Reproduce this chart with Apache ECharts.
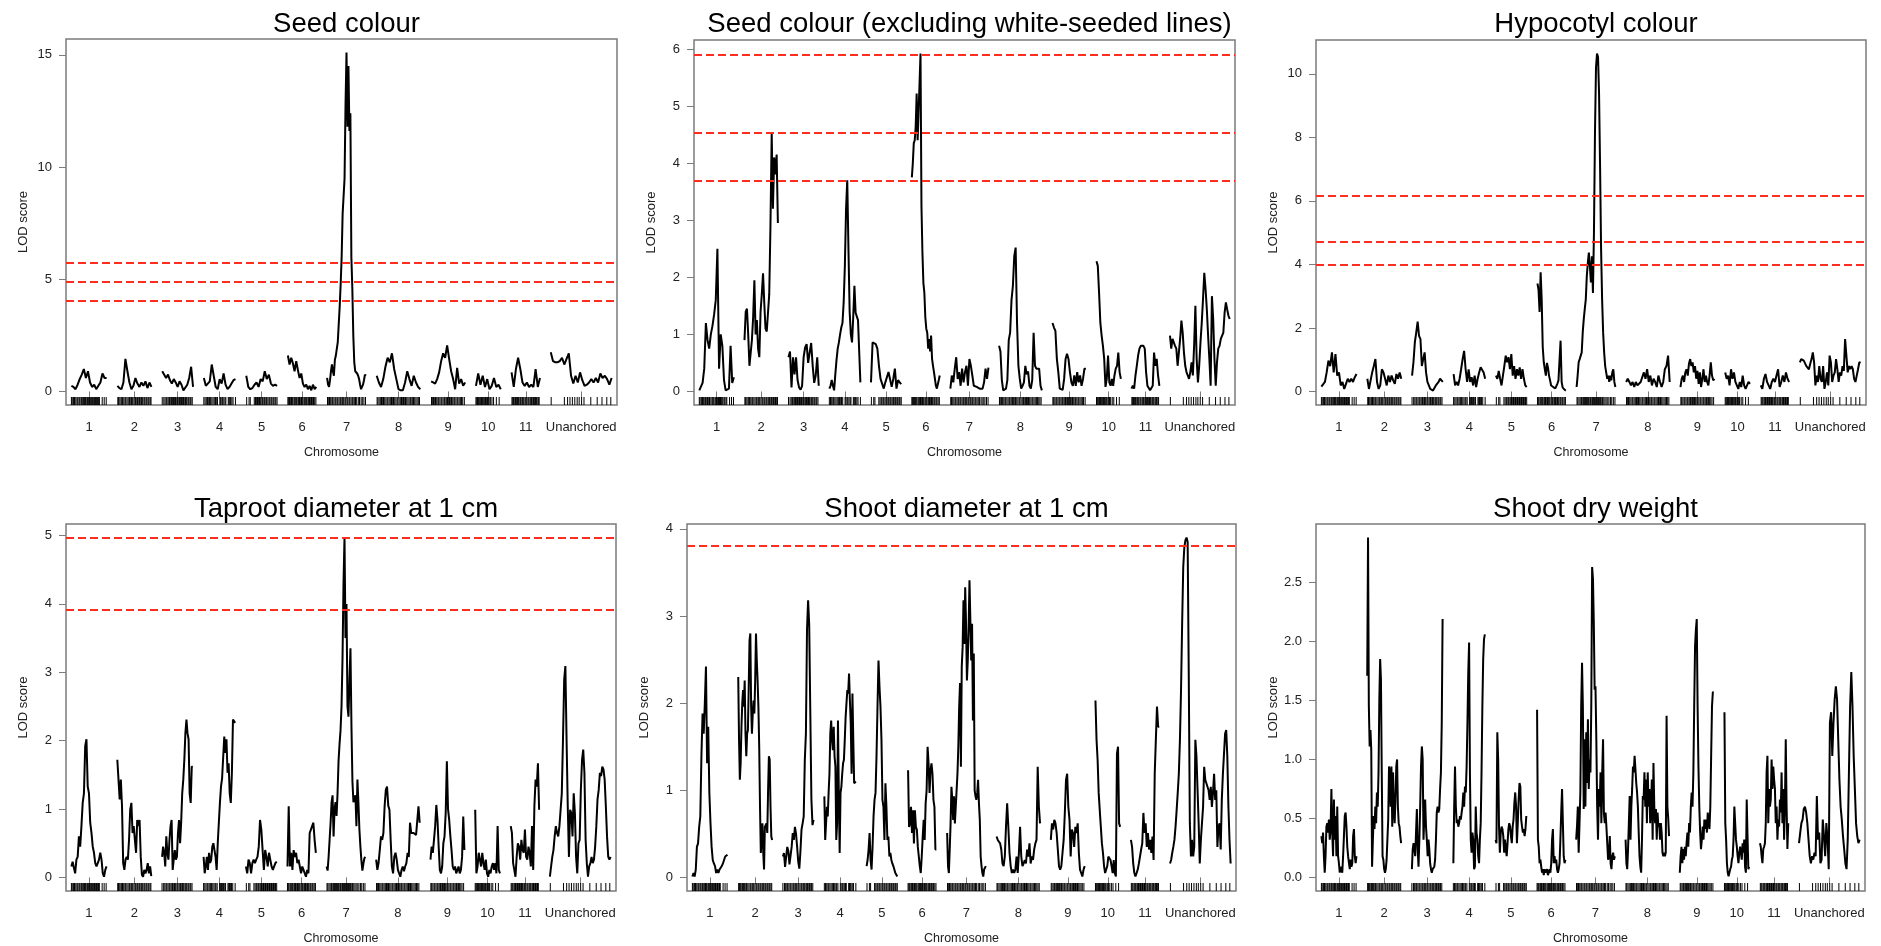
<!DOCTYPE html>
<html>
<head>
<meta charset="utf-8">
<title>LOD profiles</title>
<script src="https://cdn.jsdelivr.net/npm/echarts@6/dist/echarts.min.js"></script>
<style>
  html, body { margin: 0; padding: 0; background: #ffffff; }
  #chart { width: 1881px; height: 946px; }
</style>
</head>
<body>
<div id="chart"></div>
<script>
// ---- genetic map ----------------------------------------------------------
const chromosomes = ['1', '2', '3', '4', '5', '6', '7', '8', '9', '10', '11', 'Unanchored'];
const chromLengths = [88, 85, 77, 79, 77, 71, 97, 109, 85, 62, 71, 152];   // cM
const chromGap = 27;                                                      // cM between chromosomes

// marker positions (cM from the start of each chromosome)
const markers = [
  [0, 2, 5, 7, 8, 11, 14, 16, 19, 21, 24, 26, 27, 30, 33, 35, 37, 40, 42, 44, 45, 47, 49, 51, 52, 54, 56, 58, 60, 63, 65, 68, 70, 77, 82, 87],
  [1, 3, 6, 9, 11, 13, 16, 19, 21, 24, 27, 30, 32, 35, 37, 39, 42, 45, 47, 50, 52, 55, 57, 60, 62, 64, 67, 69, 72, 74, 77, 79, 82, 84],
  [0, 4, 7, 10, 12, 15, 18, 20, 23, 26, 28, 31, 33, 35, 38, 40, 43, 46, 48, 51, 53, 55, 58, 60, 62, 65, 67, 70, 72, 75],
  [0, 3, 6, 9, 11, 14, 17, 20, 23, 26, 29, 31, 34, 40, 42, 45, 47, 50, 53, 55, 61, 63, 65, 67, 70, 73, 79],
  [1, 7, 10, 20, 23, 26, 28, 31, 33, 36, 39, 41, 44, 46, 49, 51, 54, 57, 59, 62, 64, 67, 69, 72, 74, 77],
  [0, 2, 4, 7, 9, 11, 13, 16, 18, 20, 22, 25, 27, 29, 31, 34, 36, 38, 41, 43, 45, 47, 50, 52, 54, 57, 59, 62, 64, 67, 70],
  [1, 3, 6, 9, 12, 14, 17, 20, 22, 25, 27, 30, 33, 35, 38, 40, 42, 45, 47, 50, 52, 55, 57, 60, 63, 65, 68, 71, 74, 78, 81, 85, 88, 92, 96],
  [1, 3, 6, 9, 12, 15, 17, 20, 23, 26, 28, 31, 34, 37, 40, 42, 45, 48, 51, 53, 56, 59, 62, 64, 67, 70, 72, 75, 78, 81, 84, 86, 89, 92, 95, 98, 101, 104, 107],
  [1, 3, 6, 9, 11, 14, 17, 19, 22, 25, 27, 30, 33, 35, 38, 41, 43, 46, 49, 51, 54, 57, 59, 62, 65, 67, 70, 73, 76, 79, 83],
  [0, 2, 4, 6, 8, 10, 12, 14, 16, 18, 20, 22, 24, 26, 29, 31, 33, 36, 40, 44, 51, 58],
  [1, 3, 5, 8, 10, 12, 15, 17, 19, 22, 24, 27, 29, 31, 34, 36, 38, 41, 43, 46, 48, 50, 53, 55, 57, 60, 62, 64, 67, 69],
  [1, 34, 42, 48, 54, 60, 66, 71, 77, 83, 100, 116, 128, 140, 150]
];

// ---- LOD profiles: one array per chromosome, evenly spaced along it ------
const lodSeedColour = [
  [0.25,0.2,0.1,0.3,0.55,0.75,1.0,0.6,0.9,0.4,0.2,0.3,0.1,0.25,0.4,0.8,0.6,0.6],
  [0.25,0.15,0.1,0.4,1.45,0.9,0.4,0.1,0.25,0.6,0.35,0.2,0.4,0.25,0.45,0.15,0.4,0.2],
  [0.9,0.85,0.6,0.75,0.5,0.35,0.55,0.4,0.2,0.45,0.3,0.05,0.1,0.3,0.6,1.1,0.2],
  [0.6,0.25,0.35,0.45,1.2,0.7,0.2,0.1,0.55,0.35,0.8,0.3,0.1,0.2,0.35,0.5,0.55],
  [0.7,0.2,0.1,0.15,0.3,0.4,0.2,0.55,0.45,0.9,0.55,0.75,0.35,0.25,0.3,0.25],
  [1.6,1.2,1.5,1.25,0.9,1.35,0.95,0.6,0.8,0.35,0.2,0.3,0.1,0.25,0.05,0.3,0.1,0.2],
  [0.6,0.3,0.2,0.5,0.9,1.2,0.9,0.7,1.4,1.6,1.9,2.2,3.0,3.8,4.8,6.0,7.9,7.9,9.5,12.8,15.1,11.8,14.5,11.6,12.4,6.0,4.6,2.5,1.3,0.9,0.85,0.8,0.7,0.55,0.3,0.1,0.15,0.3,0.5,0.75,0.7],
  [0.7,0.4,0.2,0.55,1.1,1.5,1.3,1.7,1.0,0.55,0.1,0.05,0.05,0.4,0.9,0.55,0.25,0.7,0.4,0.2,0.1],
  [0.45,0.4,0.35,0.55,0.85,1.35,1.7,1.5,2.05,1.45,0.9,0.55,0.1,1.05,0.35,0.55,0.25,0.4],
  [0.25,0.8,0.3,0.7,0.2,0.55,0.1,0.25,0.6,0.2,0.3,0.1],
  [0.85,0.2,1.0,1.5,1.0,0.4,0.25,0.4,0.2,0.3,0.2,1.0,0.2,0.6],
  [1.75,1.35,1.3,1.3,1.35,1.5,1.2,1.45,1.7,0.7,0.35,0.7,0.4,0.85,0.5,0.25,0.3,0.4,0.55,0.4,0.6,0.4,0.8,0.6,0.7,0.55,0.3,0.6]
];

const lodSeedColourNoWhite = [
  [0.02,0.05,0.15,0.4,1.2,0.9,0.75,1.0,1.15,1.35,1.6,2.5,0.4,1.0,0.8,0.2,0.02,0.0,0.05,0.8,0.15,0.25],
  [0.9,1.4,1.45,1.0,0.45,0.42,0.9,1.3,1.95,1.0,1.25,0.75,0.6,1.4,1.7,2.07,1.55,1.1,1.05,1.05,1.7,2.9,4.52,3.2,4.1,3.8,4.15,2.95],
  [0.6,0.7,0.07,0.6,0.3,0.6,0.2,0.07,0.03,0.1,0.6,0.77,0.83,0.5,0.68,0.85,0.45,0.15,0.28,0.6,0.1],
  [0.05,0.1,0.2,0.1,0.02,0.3,0.55,0.75,0.86,1.0,1.12,1.2,1.56,2.2,3.2,3.7,2.5,1.4,1.0,0.86,1.3,1.85,1.38,1.35,1.25,0.7,0.16],
  [0.16,0.86,0.86,0.83,0.75,0.45,0.22,0.2,0.05,0.16,0.13,0.34,0.34,0.08,0.22,0.4,0.05,0.2,0.16,0.13],
  [3.75,4.0,4.35,4.4,4.64,5.22,4.4,4.9,5.4,5.92,3.24,2.43,1.9,1.73,1.3,1.1,1.03,0.75,0.92,0.7,0.98,0.57,0.45,0.34,0.22,0.1,0.05,0.07,0.2,0.28],
  [0.05,0.28,0.16,0.4,0.6,0.22,0.34,0.1,0.4,0.16,0.34,0.45,0.1,0.57,0.45,0.28,0.1,0.1,0.08,0.08,0.05,0.08,0.05,0.16,0.4,0.22,0.42],
  [0.8,0.7,0.2,0.02,0.02,0.05,0.2,0.9,1.03,1.6,1.85,2.37,2.52,1.2,0.45,0.22,0.05,0.1,0.16,0.45,0.3,0.35,0.1,0.05,0.2,1.03,0.45,0.4,0.4,0.4,0.1,0.02],
  [1.2,1.12,1.06,0.57,0.34,0.05,0.02,0.03,0.22,0.57,0.66,0.57,0.34,0.16,0.1,0.28,0.1,0.34,0.16,0.28,0.1,0.22,0.4,0.4],
  [2.28,2.2,1.73,1.2,0.98,0.8,0.57,0.08,0.22,0.63,0.16,0.1,0.22,0.1,0.28,0.4,0.45,0.68,0.34,0.22],
  [0.05,0.1,0.05,0.28,0.45,0.63,0.75,0.8,0.82,0.8,0.75,0.34,0.1,0.08,0.02,0.05,0.1,0.68,0.45,0.57,0.28,0.1],
  [0.98,0.75,0.92,0.86,0.8,0.75,0.45,0.68,0.92,1.24,1.03,0.68,0.45,0.34,0.28,0.22,0.34,0.51,0.28,0.8,1.5,0.57,0.16,0.45,0.86,1.2,1.62,2.08,1.8,1.44,0.98,0.57,0.1,1.67,1.27,0.57,0.1,0.51,0.75,0.8,0.92,0.92,1.03,1.38,1.56,1.44,1.33,1.27]
];

const lodHypocotylColour = [
  [0.15,0.14,0.3,0.6,0.97,0.8,1.23,0.6,1.18,0.5,0.6,0.19,0.3,0.08,0.24,0.4,0.3,0.4,0.3,0.45,0.55],
  [0.4,0.08,0.08,0.6,0.8,1.02,0.3,0.08,0.19,0.7,0.6,0.4,0.19,0.5,0.3,0.5,0.35,0.24,0.55,0.4,0.6,0.4],
  [0.5,0.92,1.55,1.86,2.2,1.75,1.65,0.8,1.02,1.23,0.6,0.3,0.19,0.08,0.03,0.03,0.05,0.19,0.14,0.3,0.4,0.4,0.3],
  [0.55,0.19,0.3,0.19,0.4,0.7,1.02,1.28,0.7,0.3,0.7,0.3,0.45,0.19,0.5,0.14,0.4,0.6,0.76,0.7,0.6,0.4],
  [0.5,0.4,0.65,0.4,0.19,0.5,0.8,1.13,0.92,1.08,0.7,1.18,0.5,0.8,0.4,0.7,0.5,0.76,0.4,0.7,0.4,0.19,0.14],
  [3.4,3.2,2.5,3.75,2.9,1.4,0.92,0.7,0.5,0.9,0.75,0.5,0.35,0.19,0.15,0.14,0.19,0.1,0.15,0.25,0.35,1.0,1.6,0.3,0.12,0.08,0.05,0.03],
  [0.14,0.5,0.92,1.02,0.97,1.23,1.86,2.28,2.6,2.9,3.64,4.05,4.37,3.95,3.43,4.26,3.1,5.0,8.13,10.2,10.64,10.53,9.38,7.08,4.47,2.9,1.86,1.23,0.8,0.6,0.4,0.5,0.3,0.5,0.35,0.6,0.7,0.3,0.14],
  [0.3,0.4,0.3,0.19,0.3,0.14,0.3,0.19,0.14,0.3,0.45,0.6,0.4,0.7,0.3,0.5,0.19,0.4,0.3,0.14,0.5,0.3,0.14,0.3,0.7,0.8,1.13,0.3],
  [0.14,0.4,0.5,0.3,0.6,0.7,0.5,0.87,1.02,0.8,0.92,0.6,0.8,0.4,0.65,0.24,0.6,0.14,0.4,0.7,0.3,0.5,0.3,0.19,0.5,0.92,0.5,0.35,0.4],
  [0.6,0.4,0.5,0.19,0.7,0.4,0.6,0.3,0.19,0.08,0.3,0.14,0.5,0.19,0.08,0.19,0.3,0.24],
  [0.19,0.08,0.4,0.55,0.3,0.19,0.08,0.3,0.4,0.3,0.5,0.7,0.14,0.3,0.5,0.3,0.6,0.4,0.3],
  [0.92,1.02,1.08,0.97,0.92,0.8,0.76,0.7,0.87,1.02,1.23,0.92,0.19,0.5,0.3,0.8,0.4,0.3,0.8,0.08,0.3,0.6,0.19,1.13,0.92,0.3,0.5,0.6,1.02,0.7,0.3,0.6,0.5,0.8,0.65,1.65,1.6,0.6,0.8,0.7,0.8,0.7,0.4,0.3,0.5,0.7,0.92,0.9]
];

const lodTaprootDiameter = [
  [0.16,0.23,0.14,0.06,0.26,0.3,0.6,0.45,0.75,1.09,1.23,1.92,2.02,1.33,1.23,0.8,0.65,0.45,0.36,0.21,0.16,0.21,0.26,0.36,0.26,0.06,0.01,0.11,0.16],
  [1.72,1.43,1.14,1.43,1.04,0.21,0.11,0.26,0.3,0.26,0.55,0.99,1.09,0.65,0.75,0.55,0.36,0.84,0.75,0.84,0.3,0.04,0.01,0.11,0.06,0.11,0.21,0.06,0.16,0.02],
  [0.3,0.45,0.36,0.16,0.6,0.36,0.26,0.55,0.75,0.84,0.11,0.26,0.4,0.26,0.3,0.65,0.84,0.5,0.8,1.23,1.43,1.72,2.11,2.31,2.11,2.02,1.23,1.09,1.62,1.62],
  [0.3,0.06,0.16,0.3,0.11,0.36,0.21,0.26,0.45,0.5,0.4,0.3,0.11,0.5,0.8,1.09,1.33,1.45,1.43,2.06,1.82,2.02,1.53,1.67,1.23,1.09,1.53,2.31,2.31,2.26],
  [0.16,0.06,0.26,0.21,0.06,0.21,0.26,0.21,0.26,0.3,0.45,0.84,0.7,0.4,0.11,0.4,0.3,0.16,0.36,0.26,0.16,0.11,0.16,0.21,0.23],
  [0.16,1.04,0.16,0.36,0.11,0.4,0.3,0.36,0.21,0.26,0.16,0.06,0.16,0.11,0.06,0.01,0.11,0.06,0.65,0.7,0.75,0.8,0.55,0.36],
  [0.16,0.1,0.3,0.55,0.8,1.1,1.2,0.6,1.0,1.1,0.9,1.23,1.7,1.95,2.15,2.5,3.2,4.3,4.97,3.5,4.0,2.5,2.35,2.9,3.35,2.21,1.4,1.1,1.1,1.2,0.75,1.43,1.1,0.7,0.45,0.25,0.1,0.2,0.28,0.3],
  [0.26,0.11,0.21,0.4,0.6,0.55,0.65,1.04,1.28,1.33,1.05,0.99,0.55,0.16,0.06,0.3,0.36,0.26,0.11,0.06,0.01,0.11,0.16,0.09,0.16,0.21,0.36,0.3,0.8,0.65,0.67,0.65,0.65,0.62,0.6,1.04,0.8],
  [0.26,0.45,0.36,0.55,0.75,1.06,0.84,0.45,0.11,0.06,0.16,0.5,0.6,0.94,1.7,1.0,0.84,0.6,0.4,0.16,0.11,0.16,0.06,0.11,0.16,0.06,0.11,0.3,0.89,0.4],
  [0.99,0.06,0.16,0.36,0.26,0.16,0.36,0.21,0.11,0.26,0.06,0.01,0.11,0.06,0.16,0.21,0.11,0.21,0.06,0.75,0.11,0.06],
  [0.75,0.65,0.21,0.11,0.01,0.3,0.5,0.45,0.26,0.55,0.4,0.36,0.7,0.3,0.26,0.45,0.36,0.16,0.75,0.11,1.04,1.43,1.33,1.67,0.99],
  [0.01,0.16,0.3,0.4,0.6,0.75,0.65,0.6,0.75,0.99,1.23,2.02,2.89,3.09,2.02,1.04,0.3,0.99,0.94,0.6,1.23,0.94,0.3,0.06,0.5,0.55,1.28,1.72,1.87,1.53,0.55,0.21,0.01,0.16,0.21,0.3,0.21,0.26,0.45,0.75,1.14,1.28,1.53,1.48,1.62,1.58,1.43,1.04,0.6,0.3,0.26,0.3]
];

const lodShootDiameter = [
  [0.01,0.05,0.01,0.09,0.35,0.39,0.58,0.7,1.4,1.88,1.65,2.0,2.42,1.31,1.73,0.97,0.62,0.35,0.2,0.16,0.13,0.05,0.09,0.05,0.09,0.07,0.13,0.16,0.2,0.24,0.26,0.26],
  [2.3,1.58,1.12,1.31,1.73,2.0,2.15,1.96,2.26,1.65,1.39,1.65,1.69,2.19,2.72,2.8,1.96,1.65,1.88,2.03,1.88,2.26,2.8,2.49,2.26,1.96,1.5,0.81,0.28,0.28,0.62,0.28,0.09,0.58,0.58,0.62,0.51,1.0,1.39,1.35,0.81,0.47,0.43],
  [0.24,0.28,0.12,0.1,0.35,0.3,0.15,0.25,0.35,0.51,0.43,0.58,0.5,0.35,0.18,0.1,0.3,0.55,0.62,0.7,1.35,1.65,2.84,3.18,2.9,1.9,0.9,0.6,0.66],
  [0.93,0.43,0.62,0.81,0.7,0.97,1.19,1.65,1.8,1.58,1.46,1.73,1.39,1.27,0.43,0.62,1.8,0.97,0.28,0.97,1.04,1.19,1.31,1.35,1.58,1.84,2.0,2.15,2.11,2.34,2.03,1.77,1.19,2.11,1.58,1.08,1.1,1.1],
  [0.13,0.2,0.32,0.51,0.2,0.09,0.35,0.7,0.89,0.97,1.39,1.96,2.49,2.19,1.96,1.58,0.89,0.81,0.43,1.08,0.81,0.43,0.47,0.24,0.28,0.2,0.16,0.13,0.09,0.05,0.03,0.01],
  [1.23,0.58,0.62,0.81,0.51,0.77,0.39,0.77,0.58,0.55,0.35,0.24,0.13,0.05,0.24,0.47,0.66,0.43,0.85,1.0,1.5,1.31,0.97,1.23,1.31,1.19,0.89,0.81,0.32,0.32],
  [0.51,0.13,0.05,0.32,0.62,1.04,0.89,0.66,0.93,0.62,0.81,0.81,1.19,1.5,1.96,2.23,1.27,2.42,2.64,3.18,2.68,3.33,2.91,2.26,2.49,2.87,3.41,2.95,2.49,2.91,1.8,2.57,1.0,0.93,0.89,0.97,1.12,0.85,0.66,0.24,0.13,0.05,0.01,0.09,0.11,0.13],
  [0.47,0.43,0.43,0.39,0.32,0.16,0.13,0.24,0.58,0.85,0.58,0.28,0.13,0.05,0.09,0.05,0.09,0.24,0.05,0.28,0.58,0.24,0.13,0.16,0.2,0.16,0.32,0.24,0.39,0.16,0.24,0.2,0.32,0.39,0.43,1.27,0.81,0.62],
  [0.43,0.62,0.55,0.66,0.62,0.51,0.32,0.13,0.09,0.13,0.28,0.43,0.74,1.12,1.19,0.81,0.66,0.24,0.55,0.51,0.35,0.58,0.51,0.62,0.28,0.09,0.05,0.01,0.09,0.13],
  [2.03,1.58,1.35,0.97,0.77,0.58,0.39,0.28,0.13,0.05,0.05,0.13,0.24,0.24,0.2,0.13,0.05,0.2,0.05,0.01,1.42,1.5,0.62,0.58],
  [0.43,0.35,0.16,0.05,0.01,0.05,0.09,0.16,0.24,0.32,0.39,0.74,0.51,0.62,0.35,0.51,0.32,0.43,0.28,0.47,0.2,1.19,1.58,1.96,1.73,1.73],
  [0.16,0.2,0.28,0.35,0.43,0.58,0.77,0.97,1.19,1.58,2.15,2.91,3.56,3.79,3.87,3.9,3.85,2.34,0.62,0.24,0.43,0.24,0.35,1.58,1.39,1.0,0.62,0.16,0.43,0.62,0.81,1.27,1.12,1.08,1.08,1.0,0.89,1.04,0.81,0.97,1.19,0.89,1.0,0.35,0.58,0.62,0.32,0.89,1.19,1.42,1.65,1.69,1.39,0.81,0.43,0.16]
];

const lodShootDryWeight = [
  [0.35,0.29,0.38,0.18,0.04,0.18,0.43,0.46,0.38,0.49,0.32,0.41,0.75,0.38,0.18,0.66,0.32,0.52,0.18,0.6,0.18,0.12,0.04,0.09,0.07,0.04,0.18,0.35,0.52,0.55,0.43,0.26,0.18,0.12,0.07,0.15,0.09,0.12,0.35,0.41,0.18,0.12,0.18],
  [1.71,2.88,1.45,1.11,1.25,1.08,0.09,0.32,0.52,0.41,0.6,0.46,0.72,0.6,0.89,1.51,1.85,1.68,0.89,0.18,0.15,0.07,0.04,0.07,0.15,0.32,0.49,0.94,0.89,0.6,0.94,0.43,0.89,0.6,0.46,0.66,0.94,1.0,0.6,0.46,0.43,0.35,0.29],
  [0.07,0.24,0.29,0.24,0.18,0.38,0.58,0.24,0.09,0.32,0.6,0.94,1.11,1.0,0.32,0.52,0.66,0.43,0.32,0.18,0.32,0.24,0.12,0.07,0.04,0.07,0.06,0.09,0.15,0.32,0.55,0.6,0.55,0.58,0.75,0.89,1.31,2.19],
  [0.12,0.6,0.94,0.6,0.46,0.49,0.43,0.46,0.52,0.49,0.55,0.6,0.72,0.6,0.77,0.72,0.94,1.31,1.74,1.99,0.89,0.32,0.21,0.38,0.32,0.07,0.09,0.6,0.38,0.32,0.18,0.12,0.32,0.46,0.89,1.45,1.85,2.02,2.06],
  [0.32,0.29,1.23,1.0,0.43,0.21,0.38,0.43,0.41,0.35,0.21,0.32,0.24,0.18,0.29,0.41,0.46,0.43,0.35,0.29,0.43,0.49,0.63,0.72,0.6,0.29,0.46,0.66,0.8,0.77,0.49,0.43,0.38,0.41,0.35,0.41,0.52],
  [1.42,0.32,0.26,0.12,0.15,0.09,0.04,0.07,0.02,0.07,0.04,0.05,0.07,0.02,0.04,0.07,0.04,0.12,0.32,0.41,0.12,0.18,0.12,0.15,0.07,0.04,0.07,0.12,0.32,0.55,0.75,0.46,0.18,0.12,0.15],
  [0.32,0.43,0.6,0.21,0.46,0.72,1.45,1.82,1.45,0.58,1.17,0.6,1.23,0.8,1.34,0.75,1.0,0.89,1.45,2.63,2.53,2.16,1.59,1.62,1.17,0.6,0.32,0.75,0.6,0.89,0.46,0.89,1.17,0.55,0.46,0.55,0.43,0.29,0.15,0.18,0.35,0.12,0.07,0.18,0.21,0.15,0.18],
  [0.32,0.12,0.07,0.24,0.46,0.69,0.32,0.6,0.75,0.94,0.89,1.03,0.92,0.8,0.72,0.6,0.38,0.18,0.09,0.04,0.32,0.69,0.66,0.89,0.6,0.83,0.46,0.89,0.6,0.75,0.46,0.6,0.83,0.32,0.97,0.6,0.46,0.58,0.32,0.55,0.43,0.46,0.32,0.46,0.38,0.21,0.18,0.21,0.18,0.21,1.37,0.6,0.5,0.35],
  [0.04,0.18,0.26,0.12,0.24,0.15,0.26,0.18,0.29,0.38,0.26,0.46,0.38,0.6,0.72,0.6,0.89,1.45,1.96,2.1,2.19,1.45,0.94,0.6,0.38,0.24,0.32,0.43,0.32,0.49,0.41,0.49,0.38,0.55,0.46,0.41,0.6,1.03,1.45,1.57,1.57],
  [1.4,0.46,0.32,0.12,0.04,0.01,0.04,0.07,0.09,0.15,0.18,0.32,0.6,0.46,0.32,0.26,0.18,0.12,0.21,0.26,0.21,0.15,0.29,0.21,0.32,0.09,0.04,0.66,0.35,0.07,0.09],
  [0.29,0.26,0.18,0.12,0.24,0.26,0.29,0.46,0.89,1.03,0.46,0.75,0.6,0.66,1.0,0.75,0.94,0.83,0.75,0.46,0.6,0.32,0.49,0.43,0.66,0.55,0.89,0.46,0.75,0.32,0.6,1.17,0.6,0.24,0.46],
  [0.29,0.38,0.46,0.49,0.58,0.6,0.55,0.46,0.32,0.18,0.12,0.18,0.15,0.21,0.18,0.69,0.32,0.38,0.12,0.15,0.49,0.35,0.18,0.46,0.32,0.07,1.31,1.4,1.03,1.31,1.51,1.62,1.51,1.17,0.83,0.6,0.49,0.35,0.24,0.12,0.07,0.32,0.89,1.45,1.74,1.45,1.03,0.75,0.46,0.35,0.29,0.32]
];

// ---- significance thresholds (LOD) ----------------------------------------
const thrSeedColour = [5.74, 4.90, 4.06];
const thrSeedColourNoWhite = [5.89, 4.53, 3.70];
const thrHypocotylColour = [6.17, 4.71, 3.98];
const thrTaprootDiameter = [4.97, 3.91];
const thrShootDiameter = [3.81];
const thrShootDryWeight = [];

// ---- y-axis tick labels ----------------------------------------------------
const ticksSeedColour = [0, 5, 10, 15];
const ticksSeedColourNoWhite = [0, 1, 2, 3, 4, 5, 6];
const ticksHypocotylColour = [0, 2, 4, 6, 8, 10];
const ticksTaprootDiameter = [0, 1, 2, 3, 4, 5];
const ticksShootDiameter = [0, 1, 2, 3, 4];
const ticksShootDryWeight = [0, 0.5, 1.0, 1.5, 2.0, 2.5];

const panelTitles = [
  'Seed colour',
  'Seed colour (excluding white-seeded lines)',
  'Hypocotyl colour',
  'Taproot diameter at 1 cm',
  'Shoot diameter at 1 cm',
  'Shoot dry weight'
];

// ---- drawing ---------------------------------------------------------------
const panels = [
  { lod: lodSeedColour,        thr: thrSeedColour,        ticks: ticksSeedColour,        dec: 0 },
  { lod: lodSeedColourNoWhite, thr: thrSeedColourNoWhite, ticks: ticksSeedColourNoWhite, dec: 0 },
  { lod: lodHypocotylColour,   thr: thrHypocotylColour,   ticks: ticksHypocotylColour,   dec: 0 },
  { lod: lodTaprootDiameter,   thr: thrTaprootDiameter,   ticks: ticksTaprootDiameter,   dec: 0 },
  { lod: lodShootDiameter,     thr: thrShootDiameter,     ticks: ticksShootDiameter,     dec: 0 },
  { lod: lodShootDryWeight,    thr: thrShootDryWeight,    ticks: ticksShootDryWeight,    dec: 1 }
];

// plot frames in pixels
const boxes = [
  { left: 66,   top: 39,  width: 551, height: 366 },
  { left: 694,  top: 40,  width: 541, height: 365 },
  { left: 1316, top: 40,  width: 550, height: 365 },
  { left: 66,   top: 524, width: 550, height: 367 },
  { left: 687,  top: 524, width: 549, height: 367 },
  { left: 1316, top: 524, width: 549, height: 367 }
];

const FONT = '"Liberation Sans", Arial, Helvetica, sans-serif';
const FRAME = '#7b7b7b';
const TEXT = '#222222';
const RUG_HEIGHT = 8;

const chromStart = [];
let acc = chromGap / 2;
chromLengths.forEach((len) => { chromStart.push(acc); acc += len + chromGap; });
const mapTotal = acc - chromGap / 2;
const chromMid = chromStart.map((s, i) => s + chromLengths[i] / 2);

function chromLabel(v) {
  let best = 0;
  chromMid.forEach((m, i) => { if (Math.abs(m - v) < Math.abs(chromMid[best] - v)) best = i; });
  return chromosomes[best];
}

function profileData(lod) {
  const out = [];
  lod.forEach((vals, c) => {
    const s = chromStart[c], L = chromLengths[c], n = vals.length;
    vals.forEach((v, i) => out.push([s + L * i / (n - 1), v]));
    out.push([s + L + chromGap / 2, '-']);   // break between chromosomes
  });
  return out;
}

const rugData = [];
markers.forEach((list, c) => list.forEach((m) => rugData.push([chromStart[c] + m, 0])));

const option = {
  animation: false,
  backgroundColor: '#ffffff',
  title: [], grid: [], xAxis: [], yAxis: [], series: []
};

panels.forEach((p, k) => {
  const b = boxes[k];
  const allVals = p.lod.flat().concat(p.thr);
  const top = Math.max.apply(null, allVals);
  const yMin = -0.04 * top, yMax = 1.04 * top;

  option.title.push({
    text: panelTitles[k],
    left: b.left + b.width / 2,
    top: k < 3 ? 5 : 490,
    textAlign: 'center',
    textStyle: { fontFamily: FONT, fontSize: 27.5, fontWeight: 'normal', color: '#000', lineHeight: 28 }
  });

  option.grid.push({
    left: b.left, top: b.top, width: b.width, height: b.height,
    show: true, borderColor: FRAME, borderWidth: 1.5, backgroundColor: 'transparent',
    containLabel: false
  });

  option.xAxis.push({
    type: 'value', gridIndex: k, min: 0, max: mapTotal,
    axisLine: { show: false }, splitLine: { show: false },
    axisTick: { show: true, length: 7, customValues: chromMid, lineStyle: { color: FRAME, width: 1 } },
    axisLabel: {
      show: true, customValues: chromMid, margin: 16, fontFamily: FONT, fontSize: 13, color: TEXT,
      formatter: (v) => chromLabel(v)
    },
    name: 'Chromosome', nameLocation: 'middle', nameGap: 41,
    nameTextStyle: { fontFamily: FONT, fontSize: 12.5, color: TEXT }
  });

  option.yAxis.push({
    type: 'value', gridIndex: k, min: yMin, max: yMax,
    axisLine: { show: false }, splitLine: { show: false },
    axisTick: { show: true, length: 7, customValues: p.ticks, lineStyle: { color: FRAME, width: 1 } },
    axisLabel: {
      show: true, customValues: p.ticks, margin: 14, fontFamily: FONT, fontSize: 13, color: TEXT,
      formatter: (v) => Number(v).toFixed(p.dec)
    },
    name: 'LOD score', nameLocation: 'middle', nameGap: 36,
    nameTextStyle: { fontFamily: FONT, fontSize: 13, color: TEXT }
  });

  const line = {
    type: 'line', xAxisIndex: k, yAxisIndex: k,
    data: profileData(p.lod),
    symbol: 'none', showSymbol: false, connectNulls: false, smooth: false,
    lineStyle: { color: '#000000', width: 2 },
    z: 3, silent: true
  };
  if (p.thr.length) {
    line.markLine = {
      silent: true, symbol: ['none', 'none'], label: { show: false },
      lineStyle: { color: '#ff2d20', width: 2, type: [8, 4] },
      emphasis: { disabled: true },
      data: p.thr.map((v) => ({ yAxis: v }))
    };
  }
  option.series.push(line);

  // marker rug along the bottom of the frame
  option.series.push({
    type: 'custom', xAxisIndex: k, yAxisIndex: k, data: rugData, silent: true, z: 2,
    encode: { x: 0, y: 1 },
    renderItem: function (params, api) {
      const x = api.coord([api.value(0), 0])[0];
      const cs = params.coordSys;
      const yb = cs.y + cs.height;
      return {
        type: 'line',
        shape: { x1: x, y1: yb, x2: x, y2: yb - RUG_HEIGHT },
        style: { stroke: '#000000', lineWidth: 1 }
      };
    }
  });
});

const chart = echarts.init(document.getElementById('chart'), null, { renderer: 'canvas', width: 1881, height: 946 });
chart.setOption(option);
</script>
</body>
</html>
